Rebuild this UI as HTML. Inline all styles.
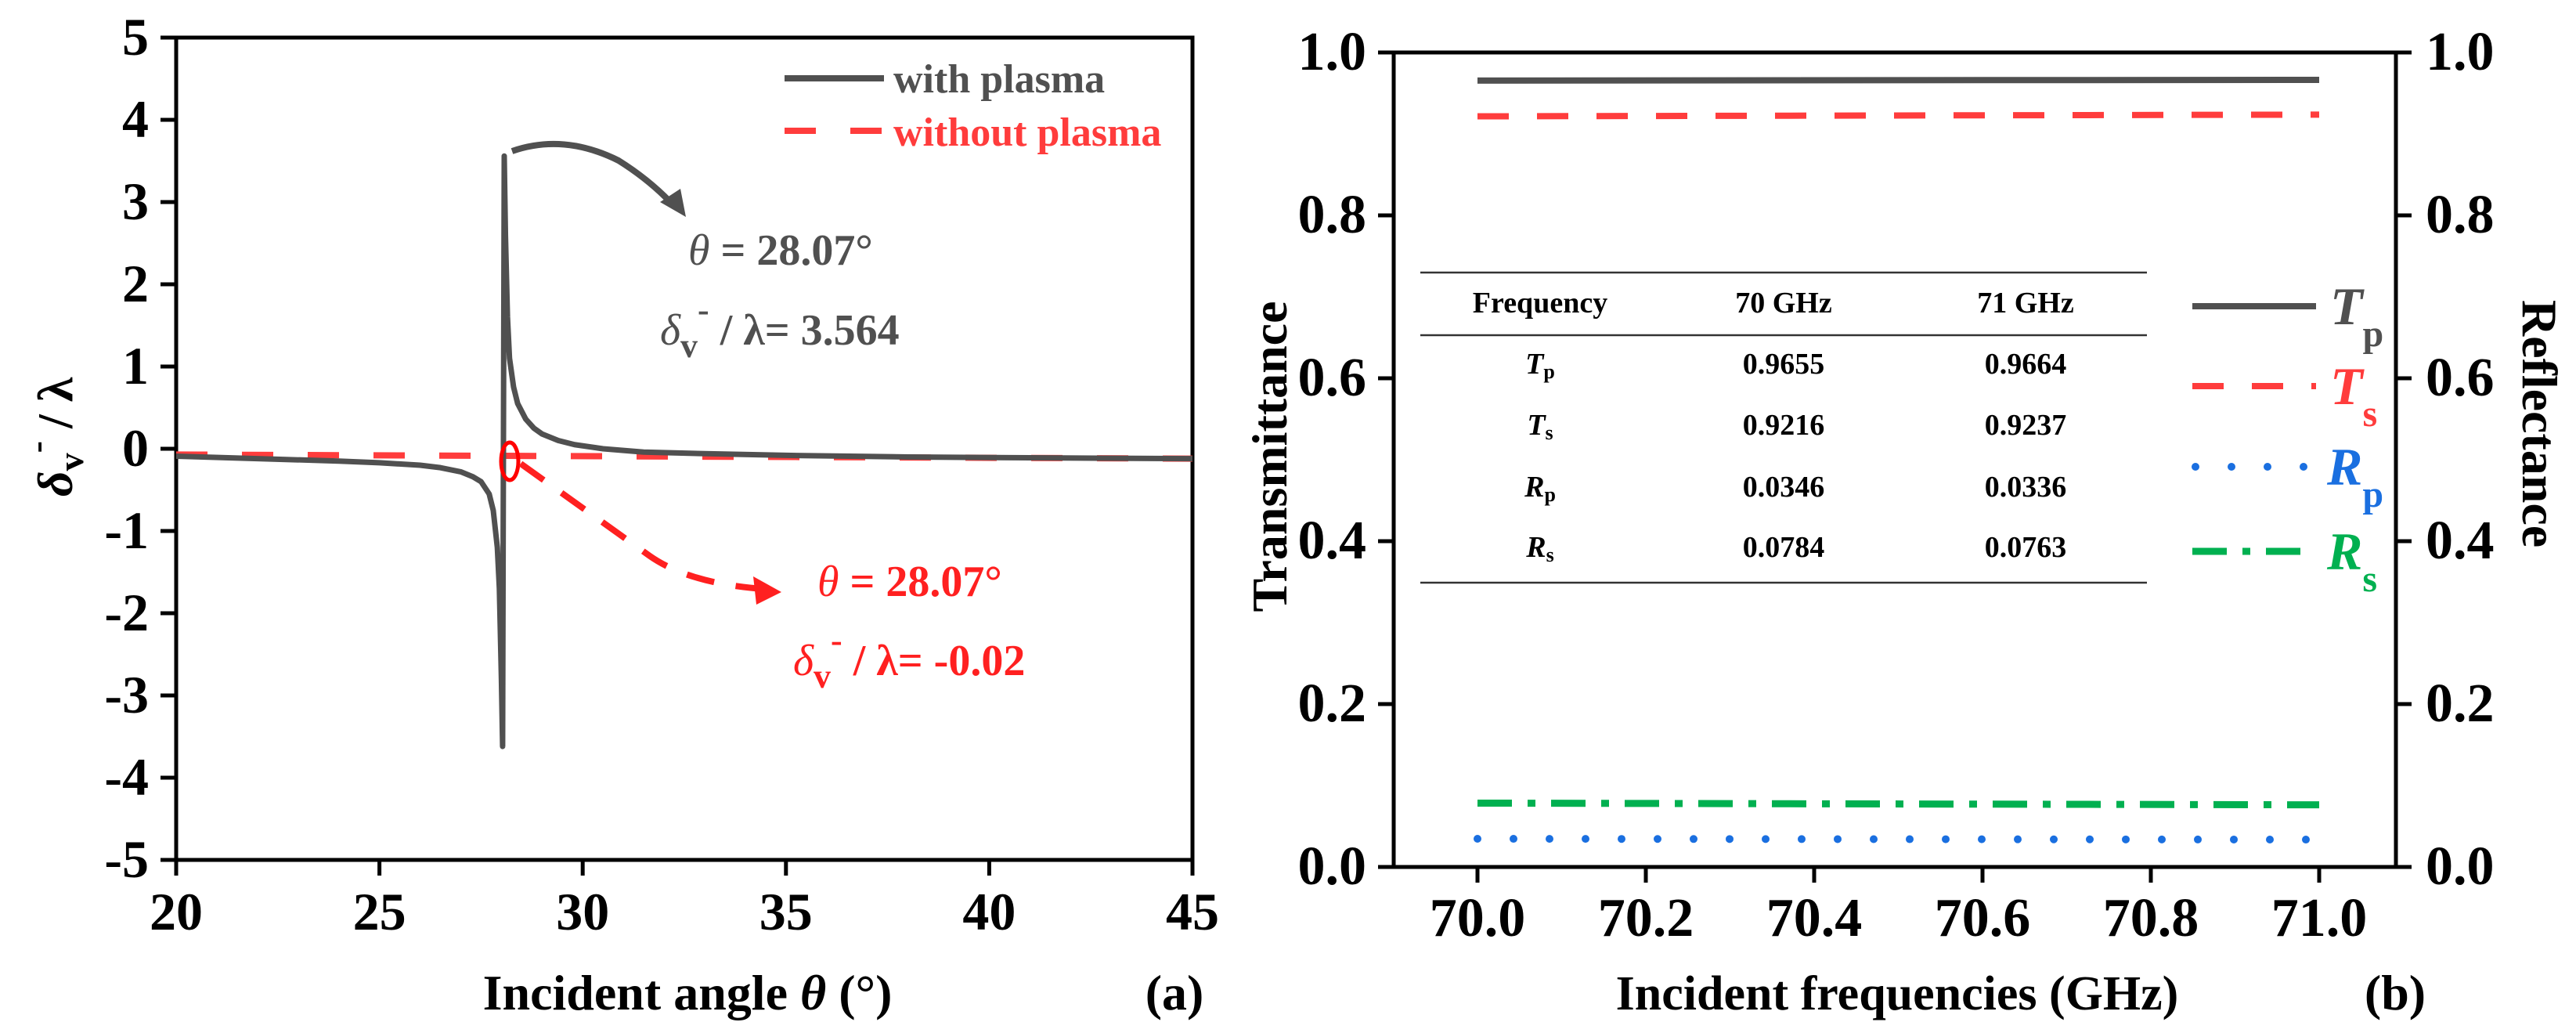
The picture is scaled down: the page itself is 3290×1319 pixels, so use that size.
<!DOCTYPE html>
<html><head><meta charset="utf-8"><style>
html,body{margin:0;padding:0;background:#fff}
svg{display:block}
text{font-family:"Liberation Serif","Times New Roman",serif;font-weight:bold}
</style></head><body>
<svg id="fig" width="3290" height="1319" viewBox="0 0 3290 1319" xmlns="http://www.w3.org/2000/svg">
<g id="pa"></g>
<g id="pb"></g>
</svg>
<script>
// Panel (a) data
const angleWith = [20,22,24,25,26,26.5,27,27.3,27.5,27.7,27.8,27.9,27.95,28.0,28.03,28.07,28.1,28.15,28.2,28.3,28.4,28.6,28.8,29,29.4,29.8,30.5,31.5,33,35,38,41,45];
const deltaWith = [-0.09,-0.12,-0.15,-0.17,-0.2,-0.23,-0.28,-0.34,-0.4,-0.55,-0.75,-1.2,-1.7,-2.8,-3.62,3.56,2.6,1.6,1.1,0.75,0.55,0.36,0.25,0.18,0.1,0.05,0.0,-0.04,-0.06,-0.08,-0.1,-0.11,-0.12];
const angleWithout = [20,45];
const deltaWithout = [-0.07,-0.12];
const aXTicks = [20,25,30,35,40,45];
const aYTicks = [-5,-4,-3,-2,-1,0,1,2,3,4,5];
// Panel (b) data
const freqs = [70.0,71.0];
const Tp = [0.9655,0.9664];
const Ts = [0.9216,0.9237];
const Rp = [0.0346,0.0336];
const Rs = [0.0784,0.0763];
const bXTicks = [70.0,70.2,70.4,70.6,70.8,71.0];
const bYTicks = [0.0,0.2,0.4,0.6,0.8,1.0];
const tableHeader = ["Frequency","70 GHz","71 GHz"];
const tableRows = [["T","p","0.9655","0.9664"],["T","s","0.9216","0.9237"],["R","p","0.0346","0.0336"],["R","s","0.0784","0.0763"]];

const NS="http://www.w3.org/2000/svg";
function mk(tag, attrs, parent){const e=document.createElementNS(NS,tag);for(const k in attrs)e.setAttribute(k,attrs[k]);parent.appendChild(e);return e;}

// ---------- Panel a ----------
const pa=document.getElementById('pa');
const aL=225,aR=1523,aT=48,aB=1098;
const ax=v=>aL+(v-20)/(45-20)*(aR-aL);
const ay=v=>aB-(v+5)/10*(aB-aT);
let e;
e=mk('rect',{x:aL,y:aT,width:aR-aL,height:aB-aT,fill:'none',stroke:'#000','stroke-width':5},pa);


aYTicks.forEach(v=>{
 e=mk('line',{x1:aL-20,x2:aL,y1:ay(v),y2:ay(v),stroke:'#000','stroke-width':5},pa);
 
 
 e=mk('text',{x:190,y:ay(v)+22,'text-anchor':'end','font-size':68},pa);e.textContent=v;
 
 
});
aXTicks.forEach(v=>{
 e=mk('line',{x1:ax(v),x2:ax(v),y1:aB,y2:aB+20,stroke:'#000','stroke-width':5},pa);
 
 
 e=mk('text',{x:ax(v),y:1187,'text-anchor':'middle','font-size':68},pa);e.textContent=v;
 
 
});
e=mk('polyline',{points:angleWithout.map((a,i)=>ax(a)+','+ay(deltaWithout[i])).join(' '),fill:'none',stroke:'#ff3c3c','stroke-width':8,'stroke-dasharray':'40 44'},pa);


e=mk('polyline',{points:angleWith.map((a,i)=>ax(a)+','+ay(deltaWith[i])).join(' '),fill:'none',stroke:'#505050','stroke-width':7,'stroke-linejoin':'round'},pa);


</script>
<script>
(function(){
const pa=document.getElementById('pa');
pa.insertAdjacentHTML('beforeend',`
<line x1="1002" y1="100" x2="1129" y2="100" stroke="#505050" stroke-width="8"/>
<text x="1141" y="118" font-size="52" fill="#505050">with plasma</text>
<line x1="1002" y1="167" x2="1129" y2="167" stroke="#ff3c3c" stroke-width="8" stroke-dasharray="40 44"/>
<text x="1141" y="186" font-size="52" fill="#ff3c3c">without plasma</text>
<path d="M654 193 Q720 170 790 205 Q830 230 860 262" fill="none" stroke="#505050" stroke-width="8"/>
<polygon points="876,277 843,258 869,241" fill="#505050"/>
<text x="879" y="338" font-size="56" fill="#505050"><tspan font-style="italic" font-weight="normal">θ</tspan> = 28.07°</text>
<text x="843" y="440" font-size="56" fill="#505050"><tspan font-style="italic" font-weight="normal">δ</tspan><tspan dy="16" font-size="44">v</tspan><tspan dy="-46" font-size="44">-</tspan><tspan dy="30"> / λ= 3.564</tspan></text>
<ellipse cx="651" cy="589" rx="11" ry="24" fill="none" stroke="#ff0000" stroke-width="5"/>
<path d="M665 592 Q760 660 830 710 Q880 745 975 752" fill="none" stroke="#ff2020" stroke-width="8" stroke-dasharray="36 28"/>
<polygon points="998,756 962,736 966,772" fill="#ff2020"/>
<text x="1044" y="761" font-size="56" fill="#ff2020"><tspan font-style="italic" font-weight="normal">θ</tspan> = 28.07°</text>
<text x="1013" y="862" font-size="56" fill="#ff2020"><tspan font-style="italic" font-weight="normal">δ</tspan><tspan dy="16" font-size="44">v</tspan><tspan dy="-46" font-size="44">-</tspan><tspan dy="30"> / λ= -0.02</tspan></text>
<text transform="translate(92,558) rotate(-90)" text-anchor="middle" font-size="64" font-weight="normal"><tspan font-style="italic">δ</tspan><tspan dy="14" font-size="46">v</tspan><tspan dy="-44" font-size="46">-</tspan><tspan dy="30"> / λ</tspan></text>
<text x="878" y="1289" text-anchor="middle" font-size="64">Incident angle <tspan font-style="italic">θ</tspan> (°)</text>
<text x="1500" y="1289" text-anchor="middle" font-size="64">(a)</text>
`);
})();
</script>
<script>
(function(){
const pb=document.getElementById('pb');
const bL=1780,bR=3060,bT=67,bB=1107;
const bx=v=>1887+(v-70)/1.0*(2962-1887);
const by=v=>bB-v*(bB-bT);
let e;
e=mk('rect',{x:bL,y:bT,width:bR-bL,height:bB-bT,fill:'none',stroke:'#000','stroke-width':5},pb);


bYTicks.forEach(v=>{
 e=mk('line',{x1:bL-20,x2:bL,y1:by(v),y2:by(v),stroke:'#000','stroke-width':5},pb);
 
 
 e=mk('line',{x1:bR,x2:bR+20,y1:by(v),y2:by(v),stroke:'#000','stroke-width':5},pb);
 
 
 e=mk('text',{x:1745,y:by(v)+22,'text-anchor':'end','font-size':70},pb);e.textContent=v.toFixed(1);
 
 
 e=mk('text',{x:3098,y:by(v)+22,'font-size':70},pb);e.textContent=v.toFixed(1);
 
 
});
bXTicks.forEach(v=>{
 e=mk('line',{x1:bx(v),x2:bx(v),y1:bB,y2:bB+20,stroke:'#000','stroke-width':5},pb);
 
 
 e=mk('text',{x:bx(v),y:1195,'text-anchor':'middle','font-size':70},pb);e.textContent=v.toFixed(1);
 
 
});
function series(vals,color,dash,cap,w){
 return mk('polyline',{points:freqs.map((f,i)=>bx(f)+','+by(vals[i])).join(' '),fill:'none',stroke:color,'stroke-width':w,'stroke-dasharray':dash,'stroke-linecap':cap},pb);
}
e=series(Tp,'#505050','none','butt',8);


e=series(Ts,'#ff3c3c','40 36','butt',8);


e=series(Rp,'#1a6fe0','0 46','round',10);


e=series(Rs,'#00b050','44 20 10 20','butt',9);


const tx=[1967,2278,2587];
e=mk('line',{x1:1814,x2:2742,y1:348,y2:348,stroke:'#333','stroke-width':2.5},pb);


e=mk('line',{x1:1814,x2:2742,y1:428,y2:428,stroke:'#333','stroke-width':2.5},pb);


e=mk('line',{x1:1814,x2:2742,y1:744,y2:744,stroke:'#333','stroke-width':2.5},pb);


tableHeader.forEach((h,i)=>{
 e=mk('text',{x:tx[i],y:399,'text-anchor':'middle','font-size':38},pb);e.textContent=h;
 
 
});
const rowY=[477,555,634,711];
tableRows.forEach((r,j)=>{
 e=mk('text',{x:tx[0],y:rowY[j],'text-anchor':'middle','font-size':38},pb);
 
 
 const t1=mk('tspan',{'font-style':'italic'},e);t1.textContent=r[0];
 const t2=mk('tspan',{'font-size':26,dy:6},e);t2.textContent=r[1];
 for(let k=0;k<2;k++){
  e=mk('text',{x:tx[k+1],y:rowY[j],'text-anchor':'middle','font-size':38},pb);e.textContent=r[k+2];
  
  
 }
});
})();
</script>
<script>
(function(){
const pb=document.getElementById('pb');
pb.insertAdjacentHTML('beforeend',`
<line x1="2800" y1="391" x2="2958" y2="391" stroke="#505050" stroke-width="8"/>
<text x="2976" y="414" font-size="68" fill="#505050"><tspan font-style="italic">T</tspan><tspan font-size="48" dy="28">p</tspan></text>
<line x1="2800" y1="493" x2="2958" y2="493" stroke="#ff3c3c" stroke-width="8" stroke-dasharray="40 36"/>
<text x="2976" y="516" font-size="68" fill="#ff3c3c"><tspan font-style="italic">T</tspan><tspan font-size="48" dy="28">s</tspan></text>
<line x1="2804" y1="596" x2="2958" y2="596" stroke="#1a6fe0" stroke-width="10" stroke-dasharray="0 46" stroke-linecap="round"/>
<text x="2972" y="619" font-size="68" fill="#1a6fe0"><tspan font-style="italic">R</tspan><tspan font-size="48" dy="28">p</tspan></text>
<line x1="2800" y1="704" x2="2958" y2="704" stroke="#00b050" stroke-width="9" stroke-dasharray="44 20 10 20"/>
<text x="2972" y="727" font-size="68" fill="#00b050"><tspan font-style="italic">R</tspan><tspan font-size="48" dy="28">s</tspan></text>
<text transform="translate(1643,583) rotate(-90)" text-anchor="middle" font-size="64">Transmittance</text>
<text transform="translate(3222,541) rotate(90)" text-anchor="middle" font-size="64">Reflectance</text>
<text x="2423" y="1289" text-anchor="middle" font-size="62">Incident frequencies (GHz)</text>
<text x="3059" y="1289" text-anchor="middle" font-size="64">(b)</text>
`);
})();
</script>
</body></html>
